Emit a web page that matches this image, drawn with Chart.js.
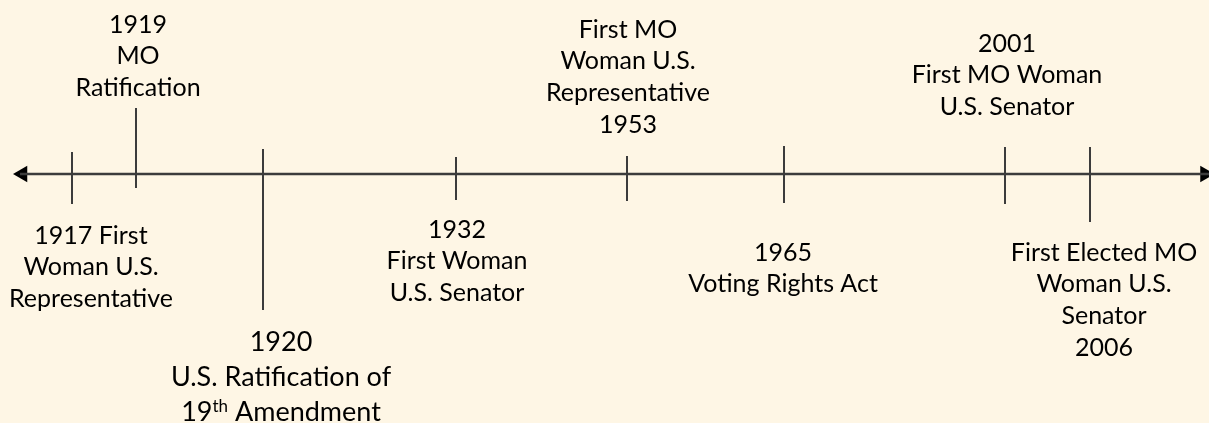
<!DOCTYPE html>
<html>
<head>
<meta charset="utf-8">
<script src="https://cdn.jsdelivr.net/npm/chart.js@4"></script>
<style>
  html, body { margin: 0; padding: 0; background: #fef6e5; }
  canvas { display: block; }
</style>
</head>
<body>
<canvas id="timeline" width="1209" height="423"></canvas>
<script>
// timeline events (left to right)
const years = ["1917", "1919", "1920", "1932", "1953", "1965", "2001", "2006"];
const captions = [
  ["1917 First", "Woman U.S.", "Representative"],
  ["1919", "MO", "Ratification"],
  ["1920", "U.S. Ratification of", "19^th Amendment"],
  ["1932", "First Woman", "U.S. Senator"],
  ["First MO", "Woman U.S.", "Representative", "1953"],
  ["1965", "Voting Rights Act"],
  ["2001", "First MO Woman", "U.S. Senator"],
  ["First Elected MO", "Woman U.S.", "Senator", "2006"],
];
// where each event sits along the timeline axis
const timelinePos = [72, 136, 263, 456, 627, 784, 1005, 1090];
// how far each tick reaches above / below the line
const tickUp = [22, 66, 25, 17, 18, 28, 27, 27];
const tickDown = [30, 14, 136, 26, 27, 29, 30, 48];

// caption placement (centre x, first line centre y, font size)
const captionX = [91, 138, 281, 457, 628, 783, 1007, 1104];
const captionY = [-61, 150, -168, -55, 145, -78, 131, -78];
const captionSize = [25, 25, 27, 25, 25, 25, 25, 25];

const lineColor = "#3c3c3c";
const fontFamily = "Lato, 'Open Sans', sans-serif";

// garis tick untuk setiap event
const tickSets = years.map((y, i) => ({
  type: "line",
  label: y,
  data: [
    { x: timelinePos[i], y: tickUp[i] },
    { x: timelinePos[i], y: -tickDown[i] },
  ],
  borderColor: lineColor,
  borderWidth: 2,
  pointRadius: 0,
  clip: false,
}));

const captionPlugin = {
  id: "captions",
  afterDatasetsDraw(chart) {
    const { ctx, scales } = chart;
    ctx.save();
    ctx.fillStyle = "#000";
    ctx.textBaseline = "alphabetic";
    captions.forEach((lines, i) => {
      const size = captionSize[i];
      const step = i === 2 ? 35 : 31.8;
      const cx = scales.x.getPixelForValue(captionX[i]);
      const cy = scales.y.getPixelForValue(captionY[i]);
      lines.forEach((line, k) => {
        const base = cy + k * step + size * 0.34;
        if (line.includes("^")) {
          // superscript, misal 19th
          const [main, rest] = line.split("^");
          const sup = rest.slice(0, 2);
          const tail = rest.slice(2);
          ctx.font = `${size}px ${fontFamily}`;
          const w1 = ctx.measureText(main).width;
          const w3 = ctx.measureText(tail).width;
          ctx.font = `${Math.round(size * 0.62)}px ${fontFamily}`;
          const w2 = ctx.measureText(sup).width;
          let x = cx - (w1 + w2 + w3) / 2;
          ctx.textAlign = "left";
          ctx.font = `${size}px ${fontFamily}`;
          ctx.fillText(main, x, base);
          x += w1;
          ctx.font = `${Math.round(size * 0.62)}px ${fontFamily}`;
          ctx.fillText(sup, x, base - size * 0.33);
          x += w2;
          ctx.font = `${size}px ${fontFamily}`;
          ctx.fillText(tail, x, base);
        } else {
          ctx.textAlign = "center";
          ctx.font = `${size}px ${fontFamily}`;
          ctx.fillText(line, cx, base);
        }
      });
    });
    ctx.restore();
  },
};

new Chart(document.getElementById("timeline"), {
  type: "line",
  data: {
    datasets: [
      {
        label: "axis",
        data: [{ x: 20, y: 0 }, { x: 1209, y: 0 }],
        borderColor: lineColor,
        borderWidth: 2.5,
        pointRadius: 0,
        clip: false,
      },
      {
        label: "arrows",
        data: [{ x: 22.5, y: 0 }, { x: 1205, y: 0 }],
        showLine: false,
        pointStyle: "triangle",
        pointRadius: 9.5,
        rotation: (c) => (c.dataIndex === 0 ? -90 : 90),
        backgroundColor: "#000",
        borderWidth: 0,
        clip: false,
      },
      ...tickSets,
    ],
  },
  options: {
    responsive: false,
    animation: false,
    layout: { padding: 0, autoPadding: false },
    scales: {
      x: { type: "linear", min: 0, max: 1209, display: false },
      y: { type: "linear", min: -249, max: 174, display: false },
    },
    plugins: {
      legend: { display: false },
      tooltip: { enabled: false },
    },
  },
  plugins: [captionPlugin],
});
</script>
</body>
</html>
